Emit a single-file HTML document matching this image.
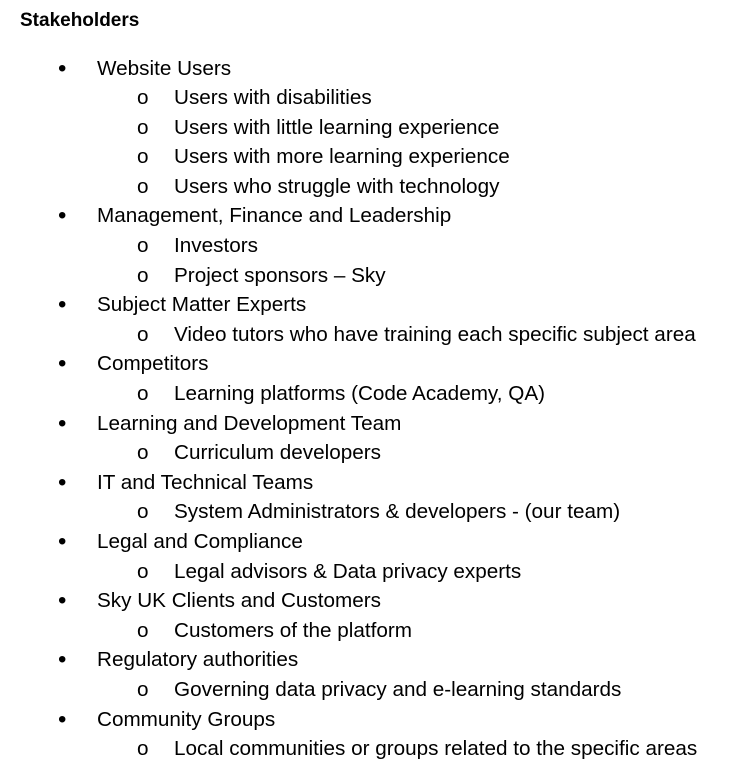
<!DOCTYPE html>
<html>
<head>
<meta charset="utf-8">
<style>
  html, body { margin: 0; padding: 0; background: #fff; }
  body { width: 734px; height: 774px; position: relative; overflow: hidden;
         font-family: "Liberation Sans", Arial, sans-serif; color: #000; }
  .title { position: absolute; left: 20px; top: 6px; font-weight: bold; font-size: 19px; line-height: 29.6px; }
  .doc { position: absolute; left: 0; top: 53.5px; }
  .line { position: relative; height: 29.6px; line-height: 29.6px; font-size: 20.7px; white-space: nowrap; }
  .l1 .mark { position: absolute; left: 58px; top: 0; font-size: 24px; }
  .l1 .txt { position: absolute; left: 97px; }
  .l2 .mark { position: absolute; left: 137px; top: 0; }
  .l2 .txt { position: absolute; left: 174px; }
</style>
</head>
<body>
<div class="title">Stakeholders</div>
<div class="doc">
  <div class="line l1"><span class="mark">•</span><span class="txt">Website Users</span></div>
  <div class="line l2"><span class="mark">o</span><span class="txt">Users with disabilities</span></div>
  <div class="line l2"><span class="mark">o</span><span class="txt">Users with little learning experience</span></div>
  <div class="line l2"><span class="mark">o</span><span class="txt">Users with more learning experience</span></div>
  <div class="line l2"><span class="mark">o</span><span class="txt">Users who struggle with technology</span></div>
  <div class="line l1"><span class="mark">•</span><span class="txt">Management, Finance and Leadership</span></div>
  <div class="line l2"><span class="mark">o</span><span class="txt">Investors</span></div>
  <div class="line l2"><span class="mark">o</span><span class="txt">Project sponsors – Sky</span></div>
  <div class="line l1"><span class="mark">•</span><span class="txt">Subject Matter Experts</span></div>
  <div class="line l2"><span class="mark">o</span><span class="txt">Video tutors who have training each specific subject area</span></div>
  <div class="line l1"><span class="mark">•</span><span class="txt">Competitors</span></div>
  <div class="line l2"><span class="mark">o</span><span class="txt">Learning platforms (Code Academy, QA)</span></div>
  <div class="line l1"><span class="mark">•</span><span class="txt">Learning and Development Team</span></div>
  <div class="line l2"><span class="mark">o</span><span class="txt">Curriculum developers</span></div>
  <div class="line l1"><span class="mark">•</span><span class="txt">IT and Technical Teams</span></div>
  <div class="line l2"><span class="mark">o</span><span class="txt">System Administrators &amp; developers - (our team)</span></div>
  <div class="line l1"><span class="mark">•</span><span class="txt">Legal and Compliance</span></div>
  <div class="line l2"><span class="mark">o</span><span class="txt">Legal advisors &amp; Data privacy experts</span></div>
  <div class="line l1"><span class="mark">•</span><span class="txt">Sky UK Clients and Customers</span></div>
  <div class="line l2"><span class="mark">o</span><span class="txt">Customers of the platform</span></div>
  <div class="line l1"><span class="mark">•</span><span class="txt">Regulatory authorities</span></div>
  <div class="line l2"><span class="mark">o</span><span class="txt">Governing data privacy and e-learning standards</span></div>
  <div class="line l1"><span class="mark">•</span><span class="txt">Community Groups</span></div>
  <div class="line l2"><span class="mark">o</span><span class="txt">Local communities or groups related to the specific areas</span></div>
</div>
</body>
</html>
